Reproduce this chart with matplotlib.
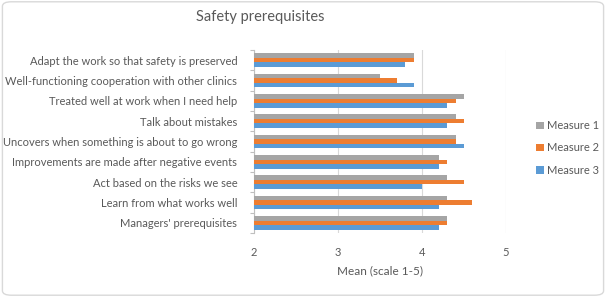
import matplotlib
matplotlib.use("Agg")
import matplotlib.pyplot as plt
from matplotlib.patches import FancyBboxPatch, Patch
import numpy as np

plt.rcParams['font.family'] = ['Lato', 'DejaVu Sans']

categories = [
    "Adapt the work so that safety is preserved",
    "Well-functioning cooperation with other clinics",
    "Treated well at work when I need help",
    "Talk about mistakes",
    "Uncovers when something is about to go wrong",
    "Improvements are made after negative events",
    "Act based on the risks we see",
    "Learn from what works well",
    "Managers' prerequisites",
]
measure1 = [3.9, 3.5, 4.5, 4.4, 4.4, 4.2, 4.3, 4.3, 4.3]
measure2 = [3.9, 3.7, 4.4, 4.5, 4.4, 4.3, 4.5, 4.6, 4.3]
measure3 = [3.8, 3.9, 4.3, 4.3, 4.5, 4.2, 4.0, 4.2, 4.2]
series_names = ["Measure 1", "Measure 2", "Measure 3"]
colors = ["#A5A5A5", "#ED7D31", "#5B9BD5"]
xticks = [2, 3, 4, 5]

text_color = "#595959"

fig = plt.figure(figsize=(6.06, 2.97), dpi=100)
border = FancyBboxPatch((0.004, 0.006), 0.992, 0.988, boxstyle="round,pad=0,rounding_size=0.015",
                        transform=fig.transFigure, facecolor="white", edgecolor="#D9D9D9",
                        linewidth=1.0, zorder=-10)
fig.patches.append(border)

ax = fig.add_axes([254/606, 1-233/297, (506-254)/606, (233-50)/297])
y = np.arange(len(categories))
h = 0.22
for vals, name, c, off in zip([measure1, measure2, measure3], series_names, colors, [-h, 0, h]):
    ax.barh(y + off, np.array(vals) - 2, left=2, height=h, color=c, label=name, zorder=3)

ax.set_xlim(2, 5)
ax.set_ylim(len(categories) - 0.5, -0.5)
ax.set_xticks(xticks)
ax.set_xticklabels([str(t) for t in xticks])
ax.set_yticks(y)
ax.set_yticklabels(categories)
ax.set_yticks(np.arange(-0.5, len(categories), 1), minor=True)
ax.tick_params(axis='y', which='major', length=0, pad=12, labelsize=8, labelcolor=text_color)
ax.tick_params(axis='y', which='minor', length=3, color="#BFBFBF", width=0.8)
ax.tick_params(axis='x', length=0, pad=10, labelsize=8, labelcolor=text_color)
ax.grid(axis='x', color="#D9D9D9", linewidth=0.8, zorder=0)
for s in ['top', 'right', 'bottom']:
    ax.spines[s].set_visible(False)
ax.spines['left'].set_color("#BFBFBF")
ax.spines['left'].set_linewidth(0.8)
ax.set_xlabel("Mean (scale 1-5)", fontsize=8.5, color=text_color, labelpad=5)

fig.text(0.43, 0.943, "Safety prerequisites", ha='center', va='center', fontsize=10.5, color=text_color)

handles = [Patch(facecolor=c, edgecolor='none') for c in colors]
fig.legend(handles, series_names, loc='center left', bbox_to_anchor=(0.868, 0.502), frameon=False,
           fontsize=8, labelcolor=text_color, handlelength=0.7, handleheight=0.7,
           handletextpad=0.3, labelspacing=1.0)

fig.savefig("out.png", dpi=100)
